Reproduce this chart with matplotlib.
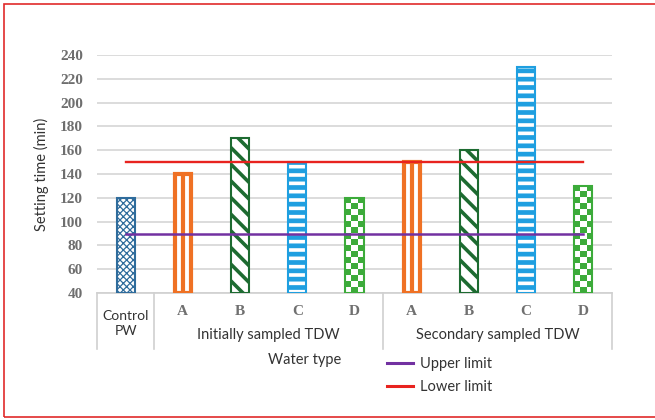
import numpy as np
import matplotlib
matplotlib.use("Agg")
import matplotlib.pyplot as plt
import matplotlib.transforms as mtransforms
from matplotlib.colors import ListedColormap
from matplotlib.lines import Line2D
from matplotlib.patches import Rectangle

# ---- data ----
sample_labels = ["", "A", "B", "C", "D", "A", "B", "C", "D"]
sample_kind = ["control", "A", "B", "C", "D", "A", "B", "C", "D"]
setting_time = [120, 140, 170, 150, 120, 150, 160, 230, 130]
group_labels = ["Initially sampled TDW", "Secondary sampled TDW"]
group_spans = [(1, 4), (5, 8)]
control_label = "Control\nPW"
upper_limit = 90
lower_limit = 150
y_ticks = list(range(40, 241, 20))

# ---- styling ----
SANS = ["Lato", "DejaVu Sans"]
SERIF = ["Liberation Serif", "DejaVu Serif"]
C_CONTROL = "#2f6c9c"
C_ORANGE = "#ef7124"
C_DKGREEN = "#1d6b31"
C_BLUE = "#1f9fe0"
C_GREEN = "#3cab3a"
C_RED = "#e8231f"
C_PURPLE = "#7231a1"
C_GRID = "#d9d9d9"

fig = plt.figure(figsize=(6.55, 4.2), dpi=100)
ax = fig.add_axes([97 / 655, 127 / 420, 515 / 655, 238 / 420])
ax.set_xlim(-0.5, 8.5)
ax.set_ylim(y_ticks[0], y_ticks[-1])

x = np.arange(len(setting_time))
base = y_ticks[0]
w = 0.315


def hatch_lw(patch, lw):
    try:
        patch.set_hatch_linewidth(lw)
    except AttributeError:
        pass


for xi, kind, val in zip(x, sample_kind, setting_time):
    if kind == "control":
        b = ax.bar(xi, val - base, bottom=base, width=w, facecolor="white",
                   edgecolor=C_CONTROL, hatch="xxxxx", linewidth=1.5, zorder=3)[0]
        hatch_lw(b, 0.9)
    elif kind == "A":
        wa = 0.28
        ax.bar(xi, val - base, bottom=base, width=wa, facecolor="white",
               edgecolor=C_ORANGE, linewidth=3.0, zorder=3)
        ax.vlines(xi, base, val, colors=C_ORANGE, linewidth=3.0, zorder=3)
    elif kind == "B":
        b = ax.bar(xi, val - base, bottom=base, width=w, facecolor="white",
                   edgecolor=C_DKGREEN, hatch="\\\\", linewidth=1.5, zorder=3)[0]
        hatch_lw(b, 2.6)
    elif kind == "C":
        b = ax.bar(xi, val - base, bottom=base, width=w, facecolor="white",
                   edgecolor=C_BLUE, hatch="--", linewidth=1.5, zorder=3)[0]
        hatch_lw(b, 3.4)
    elif kind == "D":
        b = ax.bar(xi, val - base, bottom=base, width=w, facecolor="none",
                   edgecolor=C_GREEN, linewidth=1.5, zorder=4)[0]
        # checkerboard fill clipped to the bar
        p0 = ax.transData.transform((0, 0))
        p1 = ax.transData.transform((1, 1))
        cell = w * (p1[0] - p0[0]) / 3
        nrows = max(1, int(round((val - base) * (p1[1] - p0[1]) / cell)))
        checker = (np.add.outer(np.arange(nrows), np.arange(3)) % 2).astype(float)
        im = ax.imshow(checker, extent=(xi - w / 2, xi + w / 2, base, val),
                       cmap=ListedColormap(["white", C_GREEN]), aspect="auto",
                       interpolation="nearest", origin="lower", zorder=3)
        im.set_clip_path(b)

# limit lines
ax.plot([x[0], x[-1]], [lower_limit, lower_limit], color=C_RED, lw=1.7, zorder=5)
ax.plot([x[0], x[-1]], [upper_limit, upper_limit], color=C_PURPLE, lw=1.8, zorder=5)

ax.set_xlim(-0.5, 8.5)
ax.set_ylim(y_ticks[0], y_ticks[-1])

# axes styling
ax.set_yticks(y_ticks)
ax.set_xticks([])
ax.grid(axis="y", color=C_GRID, lw=1.3, zorder=0)
ax.set_axisbelow(True)
for s in ("left", "right", "top"):
    ax.spines[s].set_visible(False)
ax.spines["bottom"].set_color("#d0d0d0")
ax.spines["bottom"].set_linewidth(1.2)
ax.tick_params(axis="y", length=0, pad=10)
for lab in ax.get_yticklabels():
    lab.set_fontfamily(SERIF)
    lab.set_fontsize(11)
    lab.set_fontweight("bold")
    lab.set_color("#6e6e6e")

ax.set_ylabel("Setting time (min)", fontfamily=SANS, fontsize=10.5, color="#333333")
ax.yaxis.set_label_coords(-0.093, 0.5)

# category table under the axis
trans = mtransforms.blended_transform_factory(ax.transData, ax.transAxes)
for xb in (-0.5, 0.5, 4.5, 8.5):
    ax.add_line(Line2D([xb, xb], [0, -0.235], transform=trans, color="#d0d0d0",
                       lw=1.2, clip_on=False))
for xi, lab in zip(x, sample_labels):
    if lab:
        ax.text(xi, -0.076, lab, transform=trans, ha="center", va="center",
                fontfamily=SERIF, fontsize=11, fontweight="bold", color="#707070")
ax.text(x[0], -0.128, control_label, transform=trans, ha="center", va="center",
        fontfamily=SANS, fontsize=10, color="#333333", linespacing=1.25)
for (a, bnd), lab in zip(group_spans, group_labels):
    ax.text((x[a] + x[bnd]) / 2, -0.176, lab, transform=trans, ha="center",
            va="center", fontfamily=SANS, fontsize=10.5, color="#333333")

fig.text(305 / 655, 1 - 360 / 420, "Water type", ha="center", va="center",
         fontfamily=SANS, fontsize=10.5, color="#333333")

handles = [Line2D([], [], color=C_PURPLE, lw=2.2), Line2D([], [], color=C_RED, lw=2.2)]
leg = fig.legend(handles, ["Upper limit", "Lower limit"], loc="upper left",
                 bbox_to_anchor=(374 / 655, 1 - 344 / 420), frameon=False,
                 handlelength=1.75, handletextpad=0.5, labelspacing=0.6,
                 prop={"family": SANS, "size": 10.5})
for t in leg.get_texts():
    t.set_color("#333333")

# outer red frame
fig.add_artist(Rectangle((4 / 655, 3 / 420), 1.2, 1 - 7 / 420, transform=fig.transFigure,
                         fill=False, edgecolor="#e02a2a", lw=1.2))

fig.savefig("out.png", dpi=100)
